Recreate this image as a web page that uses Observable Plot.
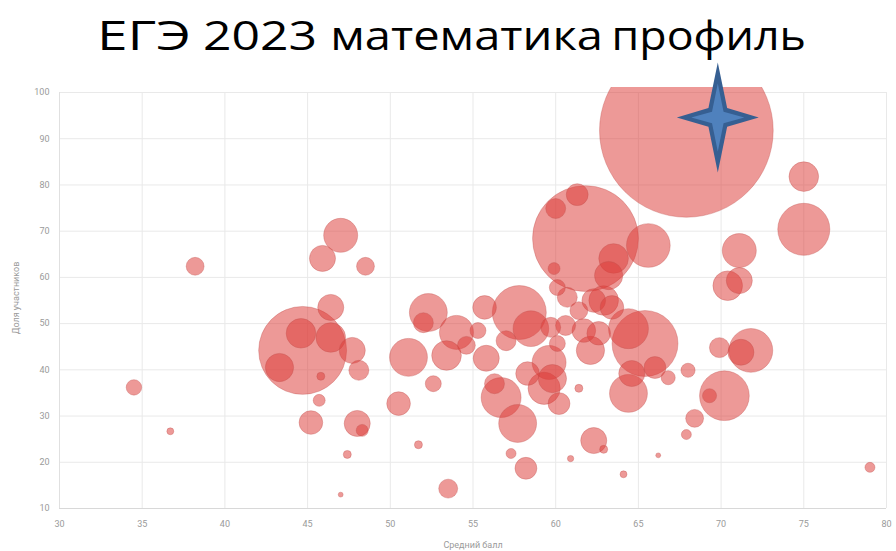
<!DOCTYPE html>
<html>
<head>
<meta charset="utf-8">
<script src="https://cdn.jsdelivr.net/npm/d3@7"></script>
<script src="https://cdn.jsdelivr.net/npm/@observablehq/plot@0.6"></script>
<style>
  html, body { margin: 0; padding: 0; background: #fff; }
  body { width: 896px; height: 551px; overflow: hidden; }
  #title { position: relative; height: 60px; white-space: pre; }
  #title span { position: absolute; top: 14px; display: inline-block; font-family: "Open Sans", sans-serif; font-size: 41px; line-height: 41px; color: #000; transform-origin: 0 50%; }
  #chart svg { display: block; }
</style>
</head>
<body>
<div id="title" aria-label="ЕГЭ 2023 математика профиль"><span id="w0">ЕГЭ</span><span id="w1"> 2023</span><span id="w2"> математика</span><span id="w3"> профиль</span></div>
<div id="chart"></div>
<script>
// Средний балл (x), Доля участников (y), размер пузыря (participants)
const avgScore = [34.5, 36.7, 38.2, 44.7, 44.6, 43.3, 46.4, 46.4, 47.7, 48.1, 45.8, 45.7, 45.2, 48.0, 48.3, 47.4, 47.0, 45.9, 47.0, 48.5,
  52.3, 52.0, 51.1, 52.6, 50.5, 51.7, 53.5, 54.0, 53.4, 55.7, 57.8, 58.5, 55.8, 56.3, 56.7, 57.7, 57.3, 58.2, 60.9, 61.8,
  61.3, 60.0, 65.6, 63.5, 63.2, 59.9, 59.6, 59.8, 59.3, 60.2, 60.1, 60.6, 61.4, 61.7, 62.3, 62.9, 62.1, 61.4, 62.3, 62.9,
  64.1, 66.2, 64.4, 65.4, 64.6, 64.4, 66.0, 66.8, 68.0, 68.4, 67.9, 67.9, 75.0, 75.0, 71.1, 71.1, 70.4, 71.8, 71.2, 69.9,
  70.2, 69.3, 79.0, 54.6, 55.3, 57.0, 60.1, 60.7, 63.4, 62.6, 59.7, 58.3];
const share = [36.2, 26.7, 62.4, 44.2, 47.9, 40.5, 53.5, 47.0, 44.2, 39.9, 38.6, 33.4, 28.6, 28.4, 26.9, 21.7, 13.0, 64.1, 69.1, 62.4,
  52.4, 50.2, 42.7, 37.0, 32.7, 23.8, 14.3, 48.1, 43.1, 53.5, 52.4, 48.9, 42.5, 37.0, 34.0, 28.4, 21.9, 18.7, 20.8, 68.4,
  77.9, 74.9, 66.9, 64.1, 60.4, 61.9, 41.6, 38.1, 36.0, 32.7, 45.7, 49.6, 52.8, 48.5, 55.0, 55.0, 44.2, 36.0, 24.7, 22.8,
  17.4, 21.5, 48.9, 45.7, 39.2, 34.9, 40.5, 38.3, 39.9, 29.5, 26.0, 91.8, 81.8, 70.4, 65.8, 59.3, 58.2, 44.2, 43.8, 44.8,
  34.4, 34.4, 18.9, 45.3, 48.5, 46.3, 57.8, 55.7, 53.5, 47.9, 49.2, 39.2];
const participants = [6, 1.2, 8, 194, 22, 20, 17, 22, 17, 10, 1.6, 3.6, 14, 17, 3.6, 1.6, 0.6, 17, 29, 8,
  36, 10, 36, 6.4, 14, 1.6, 9, 29, 22, 14, 73, 32, 17, 10, 40, 36, 2.5, 12, 1, 281,
  12, 10, 48, 22, 20, 3.6, 29, 20, 26, 12, 6.4, 10, 8, 14, 14, 22, 20, 1.6, 17, 1.6,
  1.2, 0.6, 40, 109, 17, 36, 12, 5, 5, 8, 2.5, 757, 22, 68, 29, 17, 22, 48, 17, 10,
  62, 5, 2.5, 8, 6.4, 10, 6.4, 10, 14, 14, 10, 14];
const xTicks = [30, 35, 40, 45, 50, 55, 60, 65, 70, 75, 80];
const yTicks = [10, 20, 30, 40, 50, 60, 70, 80, 90, 100];
// annotation star (четырёхконечная звезда)
const starX = [69.8];
const starY = [94.6];

const data = avgScore.map((x, i) => ({x, y: share[i], n: participants[i]}));
const stars = starX.map((x, i) => ({x, y: starY[i]}));

function starSymbol(wr, ar) {
  return {
    draw(ctx, size) {
      const h = Math.sqrt(size / Math.PI), w = h * wr, a = h * ar;
      ctx.moveTo(0, -h); ctx.lineTo(a, -a); ctx.lineTo(w, 0); ctx.lineTo(a, a);
      ctx.lineTo(0, h); ctx.lineTo(-a, a); ctx.lineTo(-w, 0); ctx.lineTo(-a, -a);
      ctx.closePath();
    }
  };
}

const chart = Plot.plot({
  width: 896,
  height: 491,
  marginLeft: 59,
  marginRight: 10,
  marginTop: 27,
  marginBottom: 43,
  style: {fontFamily: "Roboto, sans-serif", fontSize: "9px", color: "#9a9a9a", background: "transparent"},
  x: {domain: [30, 80]},
  y: {domain: [10, 101.08]},
  r: {type: "sqrt", domain: [0, 760], range: [0, 87]},
  marks: [
    Plot.ruleX(xTicks, {y1: 10, y2: 100, stroke: "#e9e9e9", strokeWidth: 1}),
    Plot.ruleY(yTicks, {x1: 30, x2: 80, stroke: "#e9e9e9", strokeWidth: 1}),
    Plot.ruleY([10], {x1: 30, x2: 80, stroke: "#d8d8d8"}),
    Plot.ruleX([30], {y1: 10, y2: 100, stroke: "#e0e0e0"}),
    Plot.axisX({ticks: xTicks, tickSize: 0, tickPadding: 12, label: "Средний балл", labelAnchor: "center", labelOffset: 39, labelArrow: "none", fill: "#9a9a9a"}),
    Plot.axisY({ticks: yTicks, tickSize: 0, tickPadding: 10, label: "Доля участников", labelAnchor: "center", labelOffset: 47, labelArrow: "none", fill: "#9a9a9a"}),
    Plot.dot(data, {x: "x", y: "y", r: "n", fill: "#dc3c37", fillOpacity: 0.52, stroke: "#c0504d", strokeOpacity: 0.35, strokeWidth: 1, clip: true}),
    Plot.dot(stars, {x: "x", y: "y", r: 55, symbol: starSymbol(0.745, 0.17), fill: "#365f92", stroke: "none"}),
    Plot.dot(stars, {x: "x", y: "y", r: 34, symbol: starSymbol(0.78, 0.17), fill: "#4f81bd", stroke: "none"})
  ]
});
document.getElementById("chart").appendChild(chart);

// place each title word at its position/width in the reference
function fit(id, left, width) {
  const el = document.getElementById(id);
  el.style.left = left + "px";
  const w = el.getBoundingClientRect().width;
  if (w > 0) el.style.transform = `scaleX(${width / w})`;
}
fit("w0", 97, 94);
fit("w1", 190, 127);
fit("w2", 318, 285);
fit("w3", 600, 206);
</script>
</body>
</html>
